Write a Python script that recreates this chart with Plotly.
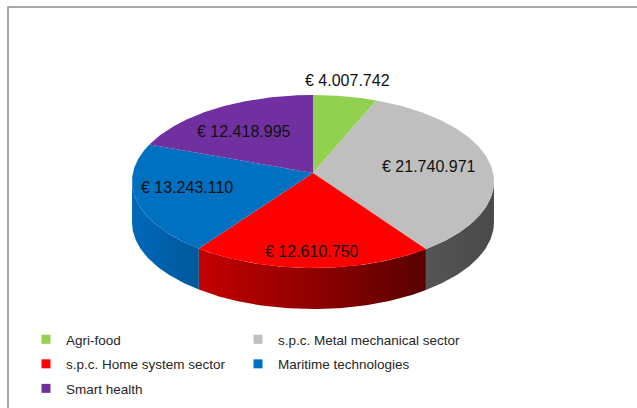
import numpy as np
import plotly.graph_objects as go

# ---- data ----
categories = ["Agri-food", "s.p.c. Metal mechanical sector", "s.p.c. Home system sector",
              "Maritime technologies", "Smart health"]
values = [4007742, 21740971, 12610750, 13243110, 12418995]
value_labels = ["€ 4.007.742", "€ 21.740.971", "€ 12.610.750", "€ 13.243.110", "€ 12.418.995"]
legend_column = ["legend", "legend2", "legend", "legend2", "legend"]

# ---- styles ----
top_colors = ["#92D050", "#BFBFBF", "#FF0000", "#0070C0", "#7030A0"]
side_scales = [
    [[0, "#6E9C3C"], [1, "#4F7029"]],
    [[0, "#555555"], [1, "#4A4A4A"]],
    [[0, "#C40000"], [1, "#5A0000"]],
    [[0, "#0068BA"], [1, "#00589A"]],
    [[0, "#5A2680"], [1, "#4A1F6A"]],
]
label_r = [1.224, 0.652, 0.836, 0.717, 0.708]
label_dx = [-4, 0, 0, 0, 0]
label_dy = [0, 0, 0, -4, 6]

W, H = 637, 408
# perspective-projected disc: centre, radii, perspective strength, thickness
cx, cy, Rx, Ry, k, depth = 313, 173, 180.1, 85.7, 0.098, 41

total = sum(values)
bounds = np.concatenate([[0], np.cumsum(values) / total * 360.0])


def proj(theta_deg, r=1.0, dy=0.0):
    t = np.radians(theta_deg)
    u, v = r * np.sin(t), -r * np.cos(t)
    s = 1.0 / (1.0 - k * v)
    return cx + Rx * u * s, cy + Ry * v * s + dy


fig = go.Figure()

# side walls: visible between the silhouette points of the projected rim
sil = np.degrees(np.arccos(-k))  # angle where rim reaches its x-extreme
for i in range(len(values)):
    a0, a1 = max(bounds[i], sil), min(bounds[i + 1], 360 - sil)
    if a1 <= a0:
        continue
    th = np.linspace(a0, a1, 80)
    xt, yt = proj(th)
    xb, yb = proj(th[::-1], dy=depth)
    xs = np.concatenate([xt, xb, xt[:1]])
    ys = np.concatenate([yt, yb, yt[:1]])
    fig.add_trace(go.Scatter(
        x=xs, y=ys, mode="lines", fill="toself",
        line=dict(width=0, color=top_colors[i]),
        fillgradient=dict(type="horizontal", colorscale=side_scales[i]),
        hoverinfo="skip", showlegend=False))

# top faces
for i in range(len(values)):
    th = np.linspace(bounds[i], bounds[i + 1], 120)
    xa, ya = proj(th)
    xs = np.concatenate([[cx], xa, [cx]])
    ys = np.concatenate([[cy], ya, [cy]])
    fig.add_trace(go.Scatter(
        x=xs, y=ys, mode="lines", fill="toself",
        line=dict(width=0, color=top_colors[i]), fillcolor=top_colors[i],
        hoverinfo="skip", showlegend=False))

# legend entries (each in its own group so the group gap sets row spacing)
for i, name in enumerate(categories):
    fig.add_trace(go.Scatter(
        x=[None], y=[None], mode="markers", name=name, legend=legend_column[i],
        legendgroup=name,
        marker=dict(symbol="square", size=9, color=top_colors[i])))

# value labels
for i, lab in enumerate(value_labels):
    mid = (bounds[i] + bounds[i + 1]) / 2
    lx, ly = proj(mid, r=label_r[i])
    fig.add_annotation(x=lx + label_dx[i], y=ly + label_dy[i], text=lab, showarrow=False,
                       font=dict(family="Liberation Sans, Arial", size=16, color="#111111"))

# chart frame
fig.add_shape(type="path", path=f"M 8 {H} L 8 7 L {W} 7", xref="x", yref="y",
              line=dict(color="#8C8C8C", width=1.5))

legend_font = dict(family="Liberation Sans, Arial", size=13.5, color="#262626")
fig.update_layout(
    width=W, height=H,
    margin=dict(l=0, r=0, t=0, b=0),
    paper_bgcolor="white", plot_bgcolor="white",
    xaxis=dict(range=[0, W], visible=False, fixedrange=True),
    yaxis=dict(range=[H, 0], visible=False, fixedrange=True),
    showlegend=True,
    legend=dict(orientation="v", x=26 / W, y=1 - 324 / H, xanchor="left", yanchor="top",
                font=legend_font, bgcolor="rgba(0,0,0,0)", traceorder="grouped",
                tracegroupgap=4),
    legend2=dict(orientation="v", x=238 / W, y=1 - 324 / H, xanchor="left", yanchor="top",
                 font=legend_font, bgcolor="rgba(0,0,0,0)", traceorder="grouped",
                 tracegroupgap=4),
    hovermode=False,
)

fig.write_html("out.html", config={"displayModeBar": False},
               post_script="document.body.style.margin='0';")
